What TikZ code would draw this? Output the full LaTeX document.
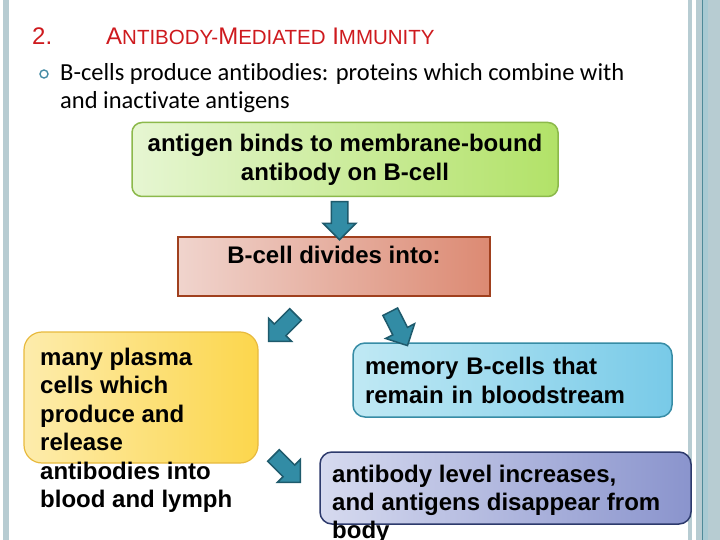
\documentclass[tikz,border=0pt]{standalone}
\usepackage{fontspec}
\newfontfamily\arialfont{Liberation Sans}
\newfontfamily\calibrifont[Ligatures=NoCommon]{Carlito}
\usetikzlibrary{positioning}
\usetikzlibrary{calc}
\usetikzlibrary{shapes.arrows}

\definecolor{headred}{RGB}{206,26,30}
\definecolor{deco}{RGB}{183,204,210}
\definecolor{decoline}{RGB}{79,138,153}
\definecolor{decoband}{RGB}{168,202,211}
\definecolor{ringteal}{RGB}{70,140,165}
\definecolor{arrowfill}{RGB}{50,140,165}
\definecolor{arrowedge}{RGB}{30,90,108}

\begin{document}
\begin{tikzpicture}[
        x=1pt, y=-1pt,
        boxtext/.style={font=\arialfont\bfseries\fontsize{24}{29}\selectfont, text=black},
        greenbox/.style={boxtext, rounded corners=10pt, draw={rgb,255:red,140;green,185;blue,75}, line width=1.5pt,
            left color={rgb,255:red,230;green,246;blue,210}, right color={rgb,255:red,178;green,226;blue,104},
            minimum width=426pt, minimum height=74pt, align=center, inner sep=0pt},
        redbox/.style={boxtext, draw={rgb,255:red,160;green,64;blue,30}, line width=1.5pt,
            left color={rgb,255:red,240;green,212;blue,205}, right color={rgb,255:red,220;green,138;blue,115},
            minimum width=312pt, inner sep=0pt, text height=27pt, text depth=32pt},
        yellowbox/.style={rounded corners=18pt, draw={rgb,255:red,232;green,186;blue,62}, line width=1.2pt,
            left color={rgb,255:red,253;green,236;blue,172}, right color={rgb,255:red,252;green,214;blue,76},
            minimum width=234pt, minimum height=131pt},
        bluebox/.style={boxtext, rounded corners=12pt, draw={rgb,255:red,55;green,140;blue,165}, line width=1.5pt,
            left color={rgb,255:red,192;green,233;blue,244}, right color={rgb,255:red,120;green,202;blue,232},
            minimum width=319pt, minimum height=74pt, text width=295pt, inner xsep=12pt, align=left},
        purplebox/.style={rounded corners=12pt, draw={rgb,255:red,45;green,58;blue,108}, line width=1.5pt,
            left color={rgb,255:red,214;green,218;blue,239}, right color={rgb,255:red,138;green,148;blue,205},
            minimum width=371pt, minimum height=72pt},
        blockarrow/.style={single arrow, draw=arrowedge, fill=arrowfill, line width=1.5pt, inner sep=0pt,
            text height=7.5pt, text depth=7.5pt, minimum height=38pt, single arrow head extend=8pt}
    ]

        \useasboundingbox (0,0) rectangle (720,540);
        \clip (0,0) rectangle (720,540);
        \fill[white] (0,0) rectangle (720,540);

        % Slide frame
        \fill[deco] (3,0) rectangle (9,540);
        \fill[deco] (688,0) rectangle (692,540);
        \fill[deco] (696,0) rectangle (720,540);
        \fill[decoband] (703,0) rectangle (708,540);
        \draw[decoline, line width=1pt] (702,0) -- (702,540);

        % Heading and intro (multi-line texts sit on their last baseline)
        \node [anchor=base west, inner sep=0pt, text=headred, font=\arialfont\fontsize{24}{24}\selectfont] (Number) at (32,44.5) {2.};
        \node [anchor=base west, inner sep=0pt, text=headred, font=\arialfont\fontsize{24}{24}\selectfont] (Title) at (106,44.5)
            {A{\fontsize{20.5}{24}\selectfont NTIBODY-}M{\fontsize{20.5}{24}\selectfont EDIATED} I{\fontsize{20.5}{24}\selectfont MMUNITY}};
        \node [circle, draw=ringteal, line width=1.4pt, minimum size=8pt, inner sep=0pt] (Bullet) at (44,74) {};
        \node [anchor=base west, inner sep=0pt, align=left, font=\calibrifont\fontsize{24.5}{27.5}\selectfont] (Intro) at (60,108.5)
            {B-cells produce antibodies: proteins which combine with\\and inactivate antigens};

        % Boxes
        \node [greenbox] (Bind) at (345,159.5) {antigen binds to membrane-bound\\antibody on B-cell};
        \node [redbox, anchor=north] (Divide) at (334,236) {B-cell divides into:};
        \node [yellowbox] (PlasmaBox) at (141,397.5) {};
        \node [boxtext, anchor=base west, inner sep=0pt, align=left, font=\arialfont\bfseries\fontsize{24}{28.5}\selectfont] (Plasma) at (40,507.5)
            {many plasma\\cells which\\produce and\\release\\antibodies into\\blood and lymph};
        \node [bluebox] (Memory) at (512.5,380) {memory B-cells that\\remain in bloodstream};
        \node [purplebox] (LevelBox) at (505.5,488) {};
        \node [boxtext, anchor=base west, inner sep=0pt, align=left, font=\arialfont\bfseries\fontsize{24}{28}\selectfont] (Level) at (332,538)
            {antibody level increases,\\and antigens disappear from\\body};

        % Block arrows
        \node [blockarrow, rotate=-90] (Down) at ($(Bind.south)!0.5!(Divide.north)$) {};
        \node [blockarrow, rotate=-135] (ToPlasma) at (285,325) {};
        \node [blockarrow, rotate=-63] (ToMemory) at (397,325) {};
        \node [blockarrow, rotate=-45] (ToLevel) at (284,466) {};

    \end{tikzpicture}
\end{document}
